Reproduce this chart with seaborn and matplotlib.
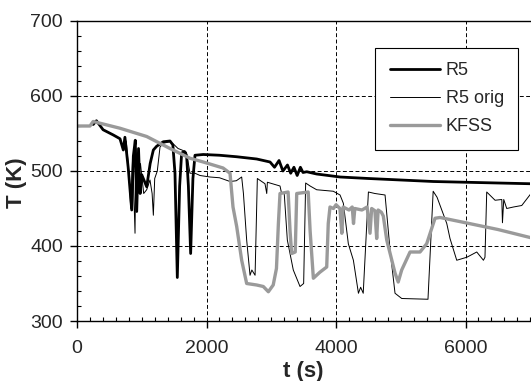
import matplotlib
matplotlib.use("Agg")
import matplotlib.pyplot as plt
import seaborn as sns
from matplotlib.ticker import MultipleLocator

# R5 (thick black)
t_r5 = [250, 300, 403, 561, 664, 715, 740, 790, 845, 870, 900, 922, 950, 975,
        1000, 1076, 1130, 1179, 1230, 1333, 1436, 1480, 1513, 1549, 1585, 1616,
        1660, 1693, 1720, 1755, 1790, 1822, 1950, 2200, 2466, 2775, 2981, 3050,
        3120, 3180, 3250, 3300, 3350, 3400, 3450, 3490, 3548, 3700, 4062, 4500,
        5000, 5500, 6000, 6500, 7011]
T_r5 = [562, 567, 555, 548, 543, 528, 545, 505, 448, 520, 541, 446, 530, 470,
        495, 479, 510, 528, 533, 539, 540, 535, 497, 358, 480, 524,
        526, 520, 480, 390, 490, 521, 522, 521, 519, 516, 512, 505,
        514, 500, 508, 497, 505, 494, 505, 498, 499, 496, 492, 490,
        488, 486, 485, 484, 483]

# R5 orig (thin black)
t_orig = [250, 300, 403, 561, 664, 715, 760, 800, 830, 860, 896, 910, 940, 980,
          1030, 1076, 1127, 1160, 1179, 1200, 1240, 1282, 1333, 1436, 1500, 1560,
          1620, 1690, 1745, 1822, 1900, 2054, 2200, 2363, 2460, 2543, 2570, 2620,
          2672, 2700, 2750, 2785, 2903, 2930, 2940, 3135, 3160, 3200, 3248, 3340,
          3444, 3500, 3531, 3600, 3701, 3958, 4062, 4113, 4190, 4268, 4346, 4380,
          4420, 4500, 4600, 4757, 4834, 4911, 4970, 5015, 5420, 5500, 5560, 5710,
          5760, 5864, 6020, 6173, 6276, 6300, 6327, 6456, 6560, 6570, 6590, 6636,
          6740, 6868, 7011]
T_orig = [562, 567, 555, 548, 543, 528, 540, 500, 450, 520, 417, 530, 480, 510,
          470, 475, 488, 470, 441, 490, 500, 532, 537, 539, 535, 530,
          528, 525, 497, 497, 494, 492, 491, 486, 487, 492, 470, 408,
          361, 368, 361, 490, 483, 470, 485, 480, 470, 470, 408, 368,
          346, 350, 484, 480, 475, 473, 468, 457, 403, 381, 337, 345,
          337, 472, 470, 468, 395, 337, 333, 330, 329, 473, 465, 430,
          410, 381, 385, 392, 381, 385, 472, 461, 462, 431, 462, 450,
          452, 454, 470]

# KFSS (grey)
t_kfss = [0, 200, 250, 664, 1076, 1436, 1745, 1950, 2255, 2363, 2409, 2466, 2543,
          2620, 2775, 2877, 2955, 3030, 3080, 3110, 3135, 3260, 3290, 3315, 3370,
          3393, 3570, 3600, 3650, 3750, 3856, 3880, 3907, 3960, 4000, 4060, 4090,
          4110, 4200, 4250, 4270, 4290, 4400, 4480, 4525, 4550, 4600, 4628, 4650,
          4700, 4730, 4783, 4911, 4960, 5014, 5143, 5297, 5400, 5529, 5606, 6000,
          6500, 7011]
T_kfss = [560, 560, 566, 557, 546, 530, 517, 512, 504, 497, 452, 426, 381,
          350, 348, 346, 339, 348, 370, 430, 470, 472, 420, 390, 392,
          470, 472, 420, 357, 365, 372, 430, 452, 450, 455, 450, 417,
          452, 448, 452, 430, 450, 448, 452, 417, 450, 447, 410, 448,
          445, 440, 408, 364, 352, 368, 392, 392, 403, 437, 438, 431,
          422, 411]

sns.set_style("ticks")
plt.rcParams['font.family'] = ['Liberation Sans', 'DejaVu Sans']

fig = plt.figure(figsize=(5.31, 3.81), dpi=100)
ax = fig.add_axes([77 / 531, 1 - 321 / 381, 453.3 / 531, 300 / 381])

sns.lineplot(x=t_r5, y=T_r5, ax=ax, color="black", lw=2.0, label="R5")
sns.lineplot(x=t_orig, y=T_orig, ax=ax, color="black", lw=0.7, label="R5 orig")
sns.lineplot(x=t_kfss, y=T_kfss, ax=ax, color="#9a9a9a", lw=2.4, label="KFSS")

ax.set_xlim(0, 7000)
ax.set_ylim(300, 700)
ax.xaxis.set_major_locator(MultipleLocator(2000))
ax.xaxis.set_minor_locator(MultipleLocator(200))
ax.yaxis.set_major_locator(MultipleLocator(100))
ax.yaxis.set_minor_locator(MultipleLocator(20))

ax.grid(True, which="major", color="black", ls=(0, (4, 2.5)), lw=0.7)
ax.tick_params(which="major", direction="out", length=5, width=1, labelsize=14,
               color="black")
ax.tick_params(axis="x", which="major", pad=9)
ax.tick_params(axis="y", which="major", pad=5)
ax.tick_params(which="minor", direction="in", length=3, width=0.8, color="black")

for side in ["left", "bottom", "top"]:
    ax.spines[side].set_color("black")
    ax.spines[side].set_linewidth(1.0)
ax.spines["right"].set_visible(False)

ax.set_xlabel("t (s)", fontsize=16, fontweight="bold")
ax.set_ylabel("T (K)", fontsize=16, fontweight="bold")
ax.xaxis.set_label_coords(0.5, -0.135)
ax.yaxis.set_label_coords(-0.11, 0.46)

leg = ax.legend(loc="upper right", bbox_to_anchor=(0.9735, 0.91), borderaxespad=0,
                fontsize=13, frameon=True, fancybox=False, framealpha=1,
                edgecolor="black", handlelength=2.8, handletextpad=0.3,
                labelspacing=0.6, borderpad=0.8)
leg.get_frame().set_linewidth(0.8)

fig.savefig("out.png", dpi=100)
